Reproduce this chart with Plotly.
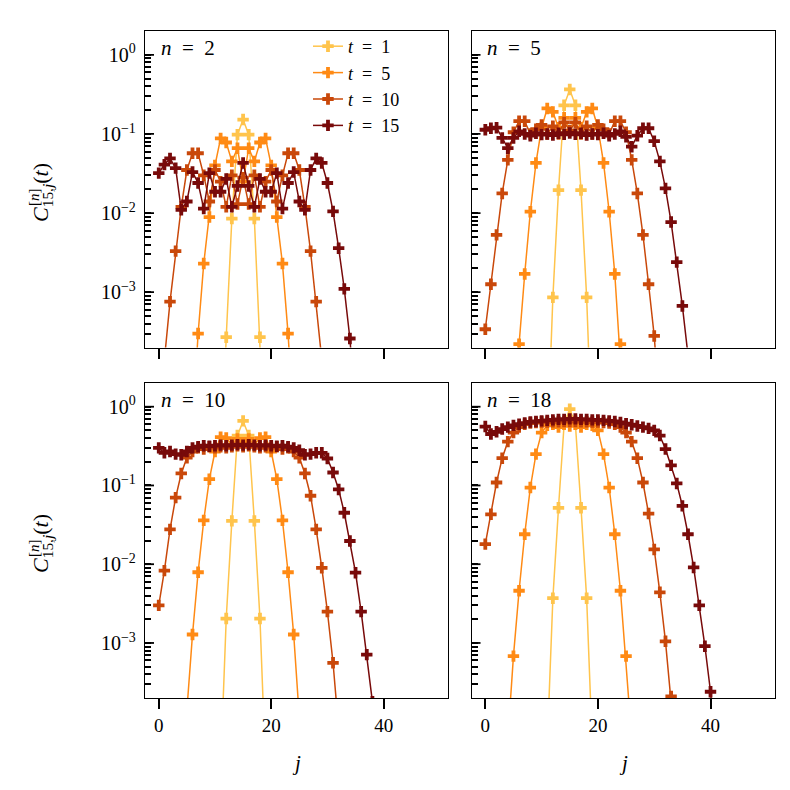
import math
import plotly.graph_objects as go

J = list(range(50))
T_VALUES = [1, 5, 10, 15]
PANEL_N = [2, 5, 10, 18]
COLORS = ["#ffc44c", "#ff8a14", "#c9480a", "#780a0a"]

def pad(start, vals):
    out = [None] * 50
    for i, v in enumerate(vals):
        out[start + i] = v
    return out

# ---- n = 2 ----
N2_T1 = pad(11, [5e-6, 2.7e-4, 0.0085, 0.098, 0.152, 0.098, 0.0085, 2.7e-4, 5e-6])
N2_T5 = pad(6, [2e-5, 3e-4, 0.0023, 0.0089, 0.04, 0.088, 0.078, 0.045, 0.066, 0.025,
                0.066, 0.045, 0.078, 0.088, 0.04, 0.0089, 0.0023, 3e-4, 2e-5])
N2_T10 = pad(0, [2e-6, 1.4e-4, 7.6e-4, 0.0033, 0.012, 0.035, 0.057, 0.057, 0.03, 0.014,
                 0.035, 0.025, 0.012, 0.03, 0.013, 0.028, 0.013, 0.03, 0.012, 0.025,
                 0.035, 0.014, 0.03, 0.057, 0.057, 0.035, 0.012, 0.0033, 7.6e-4, 1.4e-4, 2e-6])
N2_T15 = pad(0, [0.032, 0.041, 0.049, 0.037, 0.011, 0.014, 0.033, 0.024, 0.0114, 0.032,
                 0.0186, 0.0186, 0.027, 0.012, 0.022, 0.043, 0.022, 0.012, 0.027, 0.0186,
                 0.0186, 0.032, 0.0114, 0.024, 0.033, 0.014, 0.011, 0.035, 0.049, 0.043,
                 0.024, 0.0105, 0.0036, 0.0011, 2.6e-4, 3e-5])

# ---- n = 5 ----
N5_T1 = pad(11, [1e-5, 8.6e-4, 0.0195, 0.23, 0.365, 0.23, 0.0195, 8.6e-4, 1e-5])
N5_T5 = pad(5, [1e-5, 2.2e-4, 0.0017, 0.0104, 0.043, 0.12, 0.21, 0.19, 0.12, 0.16, 0.11,
                0.16, 0.12, 0.19, 0.21, 0.12, 0.043, 0.0104, 0.0017, 2.2e-4, 1e-5])
N5_T10 = pad(0, [3.4e-4, 0.00126, 0.0053, 0.0177, 0.047, 0.105, 0.145, 0.145, 0.1, 0.115,
                 0.13, 0.1, 0.125, 0.1, 0.14, 0.11, 0.14, 0.1, 0.125, 0.1, 0.13, 0.115,
                 0.1, 0.145, 0.145, 0.105, 0.047, 0.0177, 0.0053, 0.00126, 2.8e-4, 3e-5])
N5_T15 = pad(0, [0.113, 0.118, 0.12, 0.089, 0.066, 0.089, 0.108, 0.1, 0.095, 0.102, 0.098,
                 0.1, 0.097, 0.102, 0.099, 0.103, 0.099, 0.102, 0.097, 0.1, 0.098, 0.102,
                 0.095, 0.1, 0.108, 0.092, 0.069, 0.095, 0.118, 0.118, 0.081, 0.045,
                 0.0205, 0.0077, 0.0024, 6.7e-4, 1.6e-4, 2e-5])

# ---- n = 10 ----
N10_T1 = pad(11, [2.6e-5, 0.00204, 0.0355, 0.43, 0.66, 0.43, 0.0355, 0.00204, 2.6e-5])
N10_T5 = pad(4, [1e-5, 1.4e-4, 0.00128, 0.0079, 0.036, 0.12, 0.27, 0.41, 0.4, 0.33, 0.39,
                 0.35, 0.39, 0.33, 0.4, 0.41, 0.27, 0.12, 0.036, 0.0079, 0.00128, 1.4e-4, 1e-5])
N10_T10 = pad(0, [0.003, 0.0083, 0.0277, 0.07, 0.142, 0.225, 0.27, 0.3, 0.29, 0.31, 0.3,
                  0.31, 0.3, 0.31, 0.32, 0.31, 0.32, 0.31, 0.3, 0.31, 0.3, 0.31, 0.29, 0.3,
                  0.27, 0.225, 0.142, 0.074, 0.0277, 0.009, 0.0025, 5.6e-4, 8e-5])
N10_T15 = pad(0, [0.3, 0.26, 0.27, 0.25, 0.245, 0.27, 0.3, 0.31, 0.32, 0.315, 0.32, 0.325,
                  0.32, 0.325, 0.33, 0.325, 0.33, 0.325, 0.32, 0.325, 0.32, 0.315, 0.32,
                  0.31, 0.3, 0.28, 0.245, 0.25, 0.26, 0.26, 0.22, 0.146, 0.089, 0.045,
                  0.0197, 0.0078, 0.0025, 7.1e-4, 1.8e-4, 3e-5])

# ---- n = 18 ----
N18_T1 = pad(11, [5e-5, 0.0037, 0.052, 0.6, 0.93, 0.6, 0.052, 0.0037, 5e-5])
N18_T5 = pad(4, [6e-5, 6.8e-4, 0.0046, 0.024, 0.094, 0.25, 0.47, 0.58, 0.6, 0.55, 0.6,
                 0.57, 0.6, 0.55, 0.6, 0.58, 0.5, 0.25, 0.094, 0.024, 0.0046, 6.8e-4, 6e-5])
N18_T10 = pad(0, [0.018, 0.043, 0.109, 0.222, 0.36, 0.47, 0.55, 0.6, 0.62, 0.63, 0.64, 0.64,
                  0.645, 0.645, 0.65, 0.65, 0.65, 0.645, 0.645, 0.64, 0.64, 0.63, 0.62, 0.6,
                  0.55, 0.47, 0.36, 0.222, 0.109, 0.044, 0.0154, 0.0044, 0.00105, 2.1e-4, 3e-5])
N18_T15 = pad(0, [0.56, 0.45, 0.48, 0.52, 0.55, 0.58, 0.6, 0.62, 0.64, 0.65, 0.66, 0.67,
                  0.68, 0.69, 0.69, 0.7, 0.7, 0.69, 0.69, 0.68, 0.68, 0.67, 0.66, 0.65,
                  0.63, 0.61, 0.59, 0.57, 0.55, 0.53, 0.5, 0.43, 0.29, 0.18, 0.106, 0.055,
                  0.024, 0.0091, 0.003, 9.1e-4, 2.4e-4, 4e-5])

PANELS = [
    [N2_T1, N2_T5, N2_T10, N2_T15],
    [N5_T1, N5_T5, N5_T10, N5_T15],
    [N10_T1, N10_T5, N10_T10, N10_T15],
    [N18_T1, N18_T5, N18_T10, N18_T15],
]

X_TICKS = [0, 20, 40]
Y_MAJOR = [1e-3, 1e-2, 1e-1, 1e0]
Y_MAJOR_TEXT = ["10<sup>\u22123</sup>", "10<sup>\u22122</sup>", "10<sup>\u22121</sup>", "10<sup>0</sup>"]
Y_MINOR = [k * 10.0 ** d for d in range(-4, 1) for k in range(2, 10) if 2e-4 <= k * 10.0 ** d <= 2]
Y_ALL = Y_MAJOR + Y_MINOR
Y_ALL_TEXT = Y_MAJOR_TEXT + [""] * len(Y_MINOR)

FONT = "Liberation Serif"
W = H = 790
L, R, T, B = 137, 23, 23, 100
PW, PH = W - L - R, H - T - B
Y_RANGE = [math.log10(2e-4), math.log10(2)]

def px_x(a, b):
    return [(a - L) / PW, (b - L) / PW]

def px_y(top, bottom):
    return [(H - B - bottom) / PH, (H - B - top) / PH]

XDOM = [px_x(137, 440), px_x(463.5, 767)]
YDOM = [px_y(23, 339.5), px_y(375, 690)]
PANEL_W = 303.0

fig = go.Figure()
for p, series in enumerate(PANELS):
    ax = "" if p == 0 else str(p + 1)
    for k, vals in enumerate(series):
        fig.add_trace(go.Scatter(
            x=J, y=vals, mode="lines+markers",
            name="<i>t</i>\u2002=\u2002" + str(T_VALUES[k]),
            line=dict(color=COLORS[k], width=1.5),
            marker=dict(symbol="cross", size=9.5, color=COLORS[k], line=dict(width=0)),
            showlegend=(p == 0), legendgroup="t" + str(k),
            xaxis="x" + ax, yaxis="y" + ax,
        ))

layout = dict(
    width=W, height=H, margin=dict(l=L, r=R, t=T, b=B),
    paper_bgcolor="white", plot_bgcolor="white",
    font=dict(family=FONT, size=18, color="black"),
    showlegend=True,
    legend=dict(x=(300 - L) / PW, y=(H - B - 20) / PH, xanchor="left", yanchor="top",
                bgcolor="rgba(255,255,255,0)", font=dict(family=FONT, size=18),
                traceorder="grouped", tracegroupgap=0, itemwidth=30),
)
annotations = []
shapes = []
for p in range(4):
    row, col = divmod(p, 2)
    ax = "" if p == 0 else str(p + 1)
    layout["xaxis" + ax] = dict(
        domain=XDOM[col], range=[-2.45, 51.45], anchor="y" + ax,
        tickvals=X_TICKS, ticks="outside", ticklen=10, tickwidth=1.6, tickcolor="black",
        showticklabels=(row == 1), showline=True, mirror=True, linecolor="black",
        linewidth=1.4, showgrid=False, zeroline=False,
        tickfont=dict(family=FONT, size=19),
    )
    layout["yaxis" + ax] = dict(
        domain=YDOM[row], type="log", range=Y_RANGE, anchor="x" + ax,
        tickmode="array", tickvals=Y_ALL, ticktext=Y_ALL_TEXT,
        ticks="inside", ticklen=6, tickwidth=1.6, tickcolor="black",
        showticklabels=(col == 0), showline=True, mirror=True, linecolor="black",
        linewidth=1.4, showgrid=False, zeroline=False, ticklabelstandoff=4,
        tickfont=dict(family=FONT, size=20),
    )
    # longer decade ticks
    for v in Y_MAJOR:
        shapes.append(dict(
            type="line", xref="x" + ax + " domain", yref="y" + ax,
            x0=0, x1=9.0 / PANEL_W, y0=v, y1=v, line=dict(color="black", width=1.8),
            layer="above",
        ))
    annotations.append(dict(
        text="<i>n</i>\u2002=\u2002" + str(PANEL_N[p]), xref="x" + ax + " domain",
        yref="y" + ax + " domain", x=0.045, y=0.945, xanchor="left", yanchor="middle",
        showarrow=False, font=dict(family=FONT, size=21),
    ))

for col in range(2):
    annotations.append(dict(
        text="<i>j</i>", xref="paper", yref="paper",
        x=(XDOM[col][0] + XDOM[col][1]) / 2, y=(H - B - 755) / PH,
        xanchor="center", yanchor="middle", showarrow=False, font=dict(family=FONT, size=21),
    ))
for row, yc in enumerate([185, 536]):
    annotations.append(dict(
        text="<i>C</i><sub>15,<i>j</i></sub>(<i>t</i>)",
        xref="paper", yref="paper", x=(34 - L) / PW, y=(H - B - yc) / PH,
        xanchor="center", yanchor="middle", textangle=-90, showarrow=False,
        font=dict(family=FONT, size=22),
    ))
    annotations.append(dict(
        text="[<i>n</i>]",
        xref="paper", yref="paper", x=(26 - L) / PW, y=(H - B - (yc + 4)) / PH,
        xanchor="center", yanchor="middle", textangle=-90, showarrow=False,
        font=dict(family=FONT, size=15),
    ))
layout["annotations"] = annotations
layout["shapes"] = shapes
fig.update_layout(**layout)
fig.write_html("out.html")
